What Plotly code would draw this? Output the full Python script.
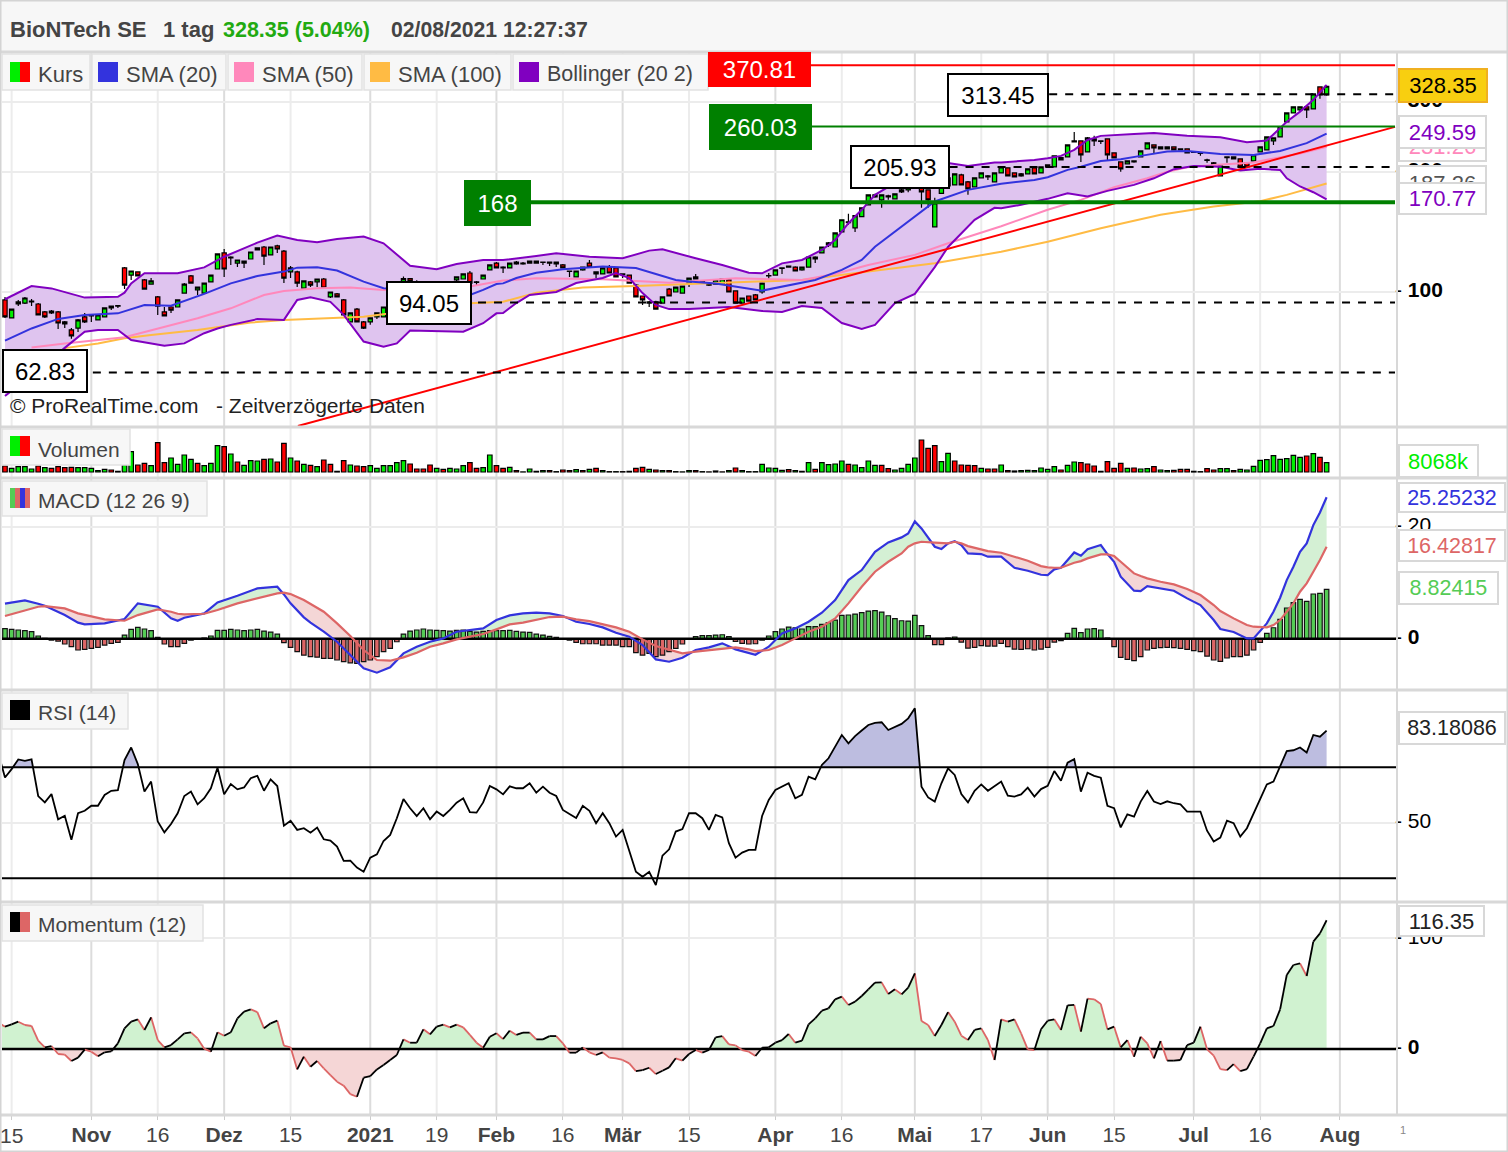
import plotly.graph_objects as go

W, H = 1508, 1152
FONT = "Liberation Sans"

bars = list(range(200))

opens = [95.5,86.1,93.3,93.8,94.4,93.3,89.1,89.6,89.1,84.1,
         80.3,81.2,86.6,87.6,85.1,86.6,91.2,92.2,114.9,110.3,
         112.3,107.2,104.7,97.2,89.1,91.7,91.7,99.4,109.7,101.2,
         99.4,106,114.2,125.3,121.7,118.2,118.2,121,127.5,129.7,
         123.9,130.5,126.7,112.3,112.3,102.3,106,106,107.8,97.2,
         98.9,95.5,84.1,90.6,84.1,84.1,86.6,86.6,91.7,95.5,
         101,108,106,103.5,105,101,103,102,107.2,107.8,
         111.6,106,107.8,113.6,118.2,114.9,114.9,117.6,117.6,118.2,
         119.6,118.9,118.9,118.9,116.9,112.9,109.1,113.6,118.2,111,
         111,115.5,114.9,111,110.3,104.1,97.7,94.4,94.4,93.8,
         101.7,100,99.4,105.3,109.1,106,104.1,104.7,104.7,107.2,
         100.6,93.8,97.7,98.3,100,110,110.3,114.6,115.5,115.5,
         113.6,115.5,121,125.3,131.3,129.7,141.5,149.2,144.9,154.5,
         165.5,173.3,170.3,174.3,171.3,178.4,180.4,187.9,205,180.4,
         145.7,176.8,184.6,185.7,196.7,189,183.6,193.4,195.6,189,
         199,204.9,199,197.9,197.9,204.9,199,206,206,214.5,
         218.3,239.4,239.4,224.7,242.2,239.4,242.2,223.4,212.1,209.7,
         212.1,218.3,228.6,233.9,231.3,228.6,231.3,228.6,228.6,224.7,
         223.4,213.9,210.9,195.6,217.5,218.3,215.8,210.9,213.3,224.7,
         227.3,239.4,245,267.2,281.5,286.4,291.5,288.1,327.1,312.4]
highs = [97.2,90.6,95.5,97.2,96,93.8,89.6,90.1,89.6,84.6,
         81.2,85.6,88.6,88.1,87.6,91.2,92.2,92.8,115.5,112.9,
         112.6,107.8,108.4,97.7,91.7,92.2,95.5,105.3,110.3,102.9,
         105.3,110.3,124.6,128.2,123,120.6,120,126,129.5,130.5,
         129.7,131.3,127.5,116.2,113,106.6,106.6,107.8,108.4,100,
         99.4,96,88.6,91.2,84.6,86.1,88.6,91.7,96,101,
         109.4,108.4,107,105.5,105.5,103.5,104,106,109.4,111.3,
         112.9,106.6,110.3,116.9,118.9,116,118.2,119.6,118.9,119.6,
         120,119.3,119.3,119.3,117.6,113.2,112.9,115.5,120.3,112.3,
         114.9,116.9,115.5,111.3,110.6,104.7,98,94.9,95,97.2,
         102.3,102.9,103.5,108.4,111,106.6,104.7,107.2,107.8,107.8,
         101,96.6,98,98.9,105.3,111.6,113.6,115.2,116.6,116,
         115.5,122.4,123,129.7,133.5,140.7,151.8,157.2,155.4,162.7,
         175.3,176.3,175.3,175.3,176.3,181.5,190,213,207,181,
         172.3,190,194,198,198,190,193.4,199,196.7,199,
         206,205.5,199.6,199,203.7,205.5,206,208.4,219.6,218.3,
         233.9,252.2,240,245,246.5,240,243,224,213,213.3,
         213.8,226,236.7,235,232,231.3,232,229.5,229.5,226,
         224.5,216,212,207.2,219,219,216.5,211.5,220.8,231.3,
         245,244,259.6,281.5,291.5,292,292.5,314.2,328,329.5]
lows = [86,86.1,92.2,93.3,92.2,87.6,86.1,88.1,80.8,81.2,
        76.3,79.4,83.6,84.1,85.1,86.6,90.1,91.2,101.7,107.2,
        109.7,101.7,104.4,87.6,87.1,88.6,91.7,99.4,105.3,98.3,
        99.4,106,114.2,109.1,116.9,115.5,114.9,121,127.5,116.9,
        123.9,125.3,105.3,108.4,102.9,102.3,102.9,102.9,102.3,96.6,
        97.2,87.6,84.1,84.1,80.8,82.7,85.6,86.6,91.2,95,
        100,106,103,102,100,100.5,101,101.5,106,107.8,
        102.3,104.1,107.8,113.6,114.9,111.6,114.9,117,117,118.2,
        118.2,116.9,116.2,115.5,114.9,109.1,109.1,113,115.5,108.4,
        111,111.6,109.1,108.4,105.3,97.2,92.8,91.7,90.6,93.8,
        97.7,100,99.4,102.9,107.8,105,103.5,104.7,104.7,100,
        93.8,93.8,94.9,95.5,99,107.8,110.3,111,115,112.9,
        113,115.5,118.2,125.3,129.7,129.7,141,147.4,141.5,154.5,
        165.5,172.3,162.7,170.3,171.3,177.3,178,186,162.7,162.7,
        145.7,176.3,184,185.7,185.7,175.3,183.6,193.4,191.1,189,
        199,195.6,194.5,194.5,197.9,197.9,199,205,206,214,
        218.3,237.5,212.1,224.7,232.6,235.3,214.5,217,200.2,209.7,
        211,218.3,228.6,223.4,228.6,228,227.3,226.5,223.4,223.5,
        219.6,211,208.4,195.6,210.9,215.8,206,206,213.3,224.7,
        227.3,233.9,245,267.2,281.5,284,273.5,288.1,305.3,311]
closes = [86.6,90.6,94.4,96.6,94.9,87.6,86.6,88.6,83.6,83.2,
          77.6,85.1,84.1,87.1,87.6,91.2,92.2,92.5,104.1,112.9,
          109.7,101.7,106.6,92.2,87.1,90.1,95.5,104.7,105.3,102.9,
          105.3,110.3,124.6,114.2,122.4,120.3,119.6,126,129,123.1,
          129.7,128.2,108.4,114.9,105.3,106.6,104.1,107.8,102.3,100,
          97.2,87.6,88.6,84.1,81.2,86.1,88.6,91.7,95.5,100.6,
          108,106.3,103.5,105,101,103,102,105.5,109.1,111,
          105.3,105.7,110.3,116.9,114.9,115.5,118.2,118.9,118.2,119.6,
          118.2,118.6,118.2,117.6,114.9,112.6,112.9,115.5,115.5,112.3,
          114.9,111.6,109.1,110.6,105.3,97.2,95.5,93.8,90.6,97.2,
          97.7,102.9,103.5,108.4,107.8,106.6,104.7,107.2,107.8,100,
          93.8,96.6,94.9,95.5,105.3,109.7,113.6,114.9,116.2,112.9,
          115.5,122.4,122.4,129.7,132.8,140.7,151.8,150,155.4,162.7,
          175.3,175.3,175.3,173.3,176.3,180.4,187.9,209,178.4,170.3,
          167.4,186,193.4,197.9,185.7,181.5,193.4,199,194.5,199,
          206,195.6,194.5,195.6,203.7,197.9,206,208.4,219.6,217.5,
          233.9,238.1,220.8,243.6,239.4,238.7,220.8,217,203.7,213.3,
          213.3,226,236.7,229.9,228.6,231.3,227.3,227.3,223.4,224.2,
          222.8,214.5,208.4,207.2,218.3,215.8,206,206,220.8,231.3,
          245,243.6,259.6,281.5,291.5,291.5,286.4,314.2,312.4,328.35]

# bollinger and moving averages, read at the bars where the curve bends
upper_x = [0,4,7,12,17,18,19,21,26,30,33,38,41,44,47,50,54,57,61,65,68,72,74,
           75,80,83,88,93,97,99,104,108,112,114,117,120,123,125,127,129,131,134,136,
           142,145,149,150,155,157,159,161,163,165,167,170,173,178,183,187,190,192,193,195,197,199]
upper_y = [95.9,103.5,102.1,96.8,97.3,99.6,105.1,111.4,111.4,115.3,122.6,133,138.5,135.1,133.3,135.9,137.8,132.5,116.4,114,117.6,120.3,120.3,
           120.3,123.1,125.1,122.6,121.5,127,128,121.5,116.9,111.8,111.4,118,120.3,127.5,135.1,148.8,160.8,175.3,187.9,202.5,
           210.7,207.2,211.4,211.4,214.5,216.7,219.6,227.3,240.8,246.5,247.9,249,250.8,246.5,244.4,237.5,239.9,257.9,267.6,283.6,303.5,330.9]
lower_x = [0,5,9,12,14,17,19,24,27,30,32,34,38,42,44,46,49,51,54,57,59,61,69,72,74,
           75,77,79,83,86,90,92,94,96,98,100,103,109,114,117,120,123,126,129,131,134,137,140,142,146,149,
           150,153,157,160,163,166,170,173,176,179,183,186,189,192,193,195,197,199]
lower_y = [54.8,63.7,72.4,79.5,80.3,80.3,75.8,73.3,74.3,78.8,81,82.7,85.5,85.1,95.5,97,94.5,87.6,75.1,72.9,74.3,80,79.5,83.5,88.4,
           88.6,93.8,98.3,100,105.3,108.4,111.6,108.4,99.4,92.8,90.6,90.6,91.7,89.6,89.1,92.2,91.2,83.6,80.8,82.7,93.8,98.9,115.5,129.7,151.8,162.7,
           162.2,165.5,171.3,177,173.6,179.4,185.7,192.9,203.3,207,206.3,201.7,203.7,202.5,192.9,184,178,170.77]
sma20_x = [0,4,8,12,17,21,25,30,34,38,42,44,47,50,54,57,63,70,72,74,75,77,80,84,90,95,98,101,103,107,114,117,122,126,129,131,135,140,145,150,155,157,160,162,165,168,171,175,178,183,188,192,196,199]
sma20_y = [75.5,81,85.6,87.6,88.4,92.8,92.4,98.9,105.1,109.7,112.5,115.1,115.3,113.2,106.2,102.2,101.2,98.3,101.2,104.7,105.1,108.4,111.8,114,115.8,114.8,111,107.2,106.2,105.1,100.8,103.2,107.2,113.6,120.3,129.9,146.2,168.7,180.4,186.8,191.1,194.1,202.5,206.3,213.1,215.4,219.6,225.1,226,222.1,220.8,226,236.3,249.59]
sma50_x = [4,9,18,23,29,34,39,42,47,52,57,70,74,75,80,90,100,110,120,125,130,137,142,150,157,162,167,172,175,178,182,188,195,199]
sma50_y = [72.6,74.3,77,81,85.9,91,98.3,100.6,102.2,102.7,101.2,103.2,106.2,106.8,108.2,107.6,105.5,108.2,107.2,111,116.9,123.9,132.5,146.2,160.8,170.3,183.2,192.9,200.4,205.5,208.4,211.4,222.7,231.3]
sma100_x = [9,14,18,22,29,37,42,50,54,70,74,75,80,87,95,105,115,120,130,140,150,157,165,174,182,189,193,199]
sma100_y = [72.3,74.3,76.5,78,80.3,83.8,85.1,86.3,86.7,93.7,94.5,94.5,99.6,102.7,103.5,105.1,106.8,107.2,112.5,118,126.2,133.7,144.6,156.3,163.8,169,175.3,187.26]

trend_x = [44.1, 209.3]
trend_y = [46.1, 259.6]

level_values = [370.81, 313.45, 260.03, 205.93, 168, 94.05, 62.83]
level_starts = [114, 150, 114, 135, 74, 64, 6]
level_end = 209.3

volume = [5180,3170,4610,4610,2590,5180,3740,3170,4610,3740,
          4030,3740,3740,3170,1150,2300,1730,580,6050,17570,
          6050,7490,5470,25340,8060,12100,6620,14690,10940,7490,
          5470,7490,22750,21890,15550,8640,5760,9790,9500,10940,
          11230,8640,24770,12100,9500,6620,5760,4610,10370,6620,
          580,9790,6050,5180,4610,5470,3170,5470,5470,8060,
          9790,6910,2590,2590,6050,3170,2300,3170,2590,5470,
          8060,3170,3740,14690,5470,3170,4030,1150,100,2590,
          580,1150,1150,290,1730,1150,2020,1150,2300,3170,
          1150,290,290,290,580,3170,4030,2300,1730,1150,
          1150,290,100,1150,1150,290,100,860,100,1150,
          3460,1150,290,290,6620,3460,3170,1440,2020,1150,
          580,8060,2300,8060,6340,6910,9500,6620,6050,3740,
          9500,5760,5760,2880,1730,3170,6620,12100,27650,20450,
          22750,8930,16130,9500,6050,5760,5470,3170,2590,2590,
          6050,1150,860,1150,1440,1150,3460,2300,4610,1730,
          5760,8640,8060,6910,5180,580,8930,3170,7490,3170,
          3460,2590,2880,4610,1730,1150,1440,2300,2300,580,
          290,2880,1730,2880,2880,1150,2300,1730,4900,10080,
          10660,14110,10940,11520,14400,12670,13820,15840,12670,8068]
volume_side = list("rggggrgrrr" "rgggggrggg" "rrgrrggggr" "gggrgrgggr" "grrgrgrgrr"
                   "rrgrrggggg" "grrrrgrggg" "rrggrrgrgg" "rgrgrrgrgr" "grgrgrrgrg"
                   "rgggrgrgrg" "rgggggggrg" "rgrggggrgg" "ggrrggggrr"
                   "rggrrrrgrr" "grrggggggr" "ggrrrrrrrg" "rggrggrrrg" "grrggrgggg" "ggggggrgrg")

macd_x = [0,3,5,6,9,11,12,15,18,20,23,25,26,27,30,32,35,38,41,42,43,45,46,48,50,52,54,56,58,60,62,64,66,68,70,72,74,
          76,78,80,82,84,86,88,90,92,94,96,98,100,102,104,106,108,110,112,113,115,117,119,121,123,125,127,129,131,133,135,136,137,138,140,141,142,143,144,145,147,148,150,
          152,154,156,157,158,159,161,162,163,165,166,167,168,170,171,172,174,176,178,180,182,183,185,187,188,190,191,192,193,194,195,196,197,198,199]
macd_line = [6.25,6.85,6.25,5.89,4.23,2.86,2.56,2.74,3.51,6.31,5.71,3.63,3.21,3.75,4.52,6.49,7.68,8.99,9.28,7.91,6.31,3.81,2.86,1.25,-.54,-2.92,-5.3,-6.07,-5.12,-2.62,-1.43,-.54,.06,1.25,1.55,1.84,3.33,
             4.17,4.52,4.64,4.52,4.05,3.03,2.62,2.02,1.07,.36,-1.13,-3.69,-4.11,-3.39,-2.02,-1.55,-.83,-1.9,-2.62,-2.86,-1.43,.95,1.84,3.03,4.64,6.9,10.47,12.26,15.53,17.2,18.09,18.8,20.94,19.69,16.42,16,17.02,17.43,16.72,15.23,15.11,14.64,14.64,
             12.67,12.14,11.42,11.36,12.38,12.67,15.41,14.82,16,16.72,15.11,13.74,11.07,8.57,8.51,9.4,8.98,8.57,7.2,6.01,3.33,1.73,1.19,.06,.06,2.74,4.82,7.32,10.47,12.85,15.53,17.02,20.29,22.55,25.25]
macd_signal = [4.05,5.12,5.71,5.83,5.41,4.52,4.22,3.45,3.21,4.22,5.24,4.82,4.46,4.34,4.46,5.12,6.31,7.2,8.09,8.21,7.97,6.9,6.19,4.82,2.74,.48,-2.02,-3.81,-3.93,-3.33,-2.5,-1.43,-.83,-.12,.36,.83,1.67,
               2.56,2.86,3.33,3.87,3.93,3.45,3.15,2.62,2.02,1.25,-.12,-1.31,-2.02,-2.62,-2.32,-2.02,-1.73,-1.55,-1.9,-2.2,-2.02,-1.13,.06,1.25,2.14,3.63,6.31,9.28,11.96,13.74,15.23,16.42,17.02,17.31,17.14,17.02,17.02,17.31,17.02,16.54,15.95,15.65,15.35,
               14.64,13.92,12.97,12.73,12.67,12.67,13.57,13.86,14.34,15.05,15.05,14.76,13.74,11.66,11.19,10.77,10.17,9.7,8.87,7.8,6.01,4.94,3.63,2.44,2.14,2.02,2.44,3.33,4.82,6.31,8.39,9.88,11.96,14.04,16.43]
macd_hist = [1.8,1.67,1.55,1.43,1.25,.48,.06,-.24,-.42,-.95,
             -1.43,-2.02,-1.9,-1.73,-1.55,-1.13,-.83,-.65,.65,1.67,
             2.02,1.73,1.43,.24,-.95,-1.43,-1.43,-.83,-.24,-.12,
             .12,.48,1.49,1.49,1.67,1.55,1.43,1.55,1.67,1.37,
             1.19,.83,-.71,-1.55,-2.32,-2.92,-3.2,-3.3,-3.5,-3.5,
             -3.8,-4.1,-4.3,-4.4,-4.1,-3.8,-3.2,-2.3,-1.73,-.54,
             .83,1.37,1.55,1.73,1.55,1.49,1.43,1.37,1.49,1.55,
             1.31,1.19,1.31,1.43,1.43,1.43,1.49,1.31,1.19,1.13,
             .83,.65,.42,.24,0,-.24,-.65,-.9,-.9,-.9,
             -1.13,-1.13,-1.13,-1.43,-1.43,-2.5,-2.92,-2.62,-3.2,-2.92,
             -2.3,-1.73,-.95,-.12,.36,.54,.54,.65,.71,.36,
             -.48,-.83,-.95,-.9,-.24,.48,1.25,1.73,2.08,1.96,
             1.73,2.14,2.14,2.56,2.86,3.33,4.17,4.23,4.4,4.64,
             4.94,5,4.76,4.1,3.57,3.21,3.15,4.17,2.32,.54,
             -1.07,-1.07,.12,.3,-.6,-1.67,-1.55,-1.25,-1.31,-1.31,
             -.83,-1.43,-1.85,-1.9,-1.79,-2.02,-1.85,-1.55,-.6,-.36,
             .95,1.85,1.07,1.73,1.79,1.55,.12,-1.43,-3.33,-3.7,
             -3.93,-3.2,-2.02,-1.73,-1.6,-1.55,-1.6,-1.73,-1.9,-2.14,
             -2.32,-3.1,-3.8,-4.05,-3.45,-3.2,-3.2,-2.92,-2.02,-.65,
             .95,1.96,3.45,5.48,6.43,7.02,6.67,7.98,8.1,8.82]

# rsi and momentum start one bar left of the axis, they come in from off chart
osc_bars = list(range(-1, 200))
rsi = [75,66.3,69.3,72.8,72.3,72.8,59.6,57.3,60.3,51.2,52.5,
       43.8,53.4,54.3,56.1,56.1,60,61.5,61.7,72.6,77.1,
       71.1,61.2,64.8,50.4,46.5,49.5,53.4,59.6,61.2,56.6,
       58.8,62.4,69.8,60.2,63.9,62,62.7,66,66.9,61.5,
       65.6,63.2,48.9,50.7,47.4,48,46.4,48.2,44,43.5,
       41.4,36.2,36.3,33.8,32.3,37.4,38.6,43.4,45.6,51.6,
       58.5,55.2,52.4,55.2,51.2,54,52.4,54.6,57.2,58.8,
       53.8,53.6,57.3,63.2,62,60.2,63.1,62.4,62.4,64.2,
       60.8,63,60.8,59.6,54.6,53.1,51.7,56.1,54.3,49.8,
       53.4,49.8,45,47.4,40.2,32.3,30.5,32.3,27.5,38.1,
       40.4,46.8,47.7,53.4,53.4,51.6,47.4,52.8,51.9,42.6,
       37.4,39.2,40.2,40.2,52.4,58.2,61.8,63,64.2,58.8,
       60,66.6,65.6,70.8,73.2,77.4,81.6,78.6,81.2,83.2,
       85.2,86,86.2,83.4,84.4,85.6,87.6,91.2,63,59.1,
       57.6,64.2,69.6,67.2,60.3,57.3,61.5,63.8,61.5,63,
       64.8,59.7,59.4,60.2,62.6,59.4,62.1,63.3,68.6,65.1,
       71.6,72.9,61.2,68,66.9,66.2,56.1,55.2,48.3,53,
       52.2,57.6,61.4,57.6,56.7,57.7,57,56.6,54,54,
       54,47.1,43.2,44.6,50.7,49.8,45,48,53.4,58.8,
       63.8,64.8,70.2,75.8,76.1,77.1,75.3,81.6,81,83.18]
rsi_levels = [70, 30]

momentum = [23.8,20.2,22.3,24.7,21.7,20.8,7.5,1.5,2.7,-4.5,-5.1,
            -10.8,-7.8,-.6,-2.4,-6.6,-3,-2.1,5.1,18.7,24.7,
            26.8,17.2,28.6,8.1,1.5,3.6,8.7,14.2,15.1,9.6,
            .3,-2.4,15.1,12,15.1,27.7,33.7,35.8,33.4,18.7,
            23.2,25.6,3,1.5,-18.4,-6.9,-16,-10.8,-17.5,-23.5,
            -29.5,-33.1,-40.7,-43.1,-25.9,-24.4,-18.4,-14.5,-9.9,-5.4,
            8.7,5.7,5.7,17.8,13.3,20.2,22,19.6,22,19.6,
            12.7,5.7,1.2,11.1,14.2,9,16.6,12.7,14.8,14.8,
            8.7,8.7,11.7,11.7,5.1,-3.3,-3.3,1.5,-3,-5.4,
            -3,-7.8,-8.4,-9.9,-13,-19.9,-19,-16.9,-22.6,-19.6,
            -16.6,-8.4,-10.5,-4.5,-.9,-3.3,-.9,10.5,11.7,4.2,
            3.3,-.9,-2.4,-6.3,1.2,1.5,5.7,8.1,13.6,5.7,
            7.5,22.3,27.7,34.6,36.7,44.9,47.3,39.8,42.8,47.9,
            53.9,59.9,60.2,49.7,53.9,49.4,55.4,68.4,25.3,21.7,
            11.7,21.7,33.4,24.7,12,8.1,17.2,18.7,8.1,-9.9,
            26.8,24.7,26.8,14.2,-.3,-.9,17.8,25.6,26.8,17.2,
            39.5,39.8,15.7,45.5,44.9,40.7,17.8,20.2,1.5,8.1,
            -6.9,11.1,5.1,-8.4,7.2,-10.5,-10.5,-9.9,3.6,5.7,
            20.2,-.3,-6,-18.1,-19,-13.6,-19.9,-18.1,-6.9,5.1,
            18.7,20.8,35.8,66.9,75.9,77.4,66,97,104.5,116.35]

month_ticks = [13, 33, 55, 74, 93, 116, 137, 157, 179, 201]
month_labels = ["Nov", "Dez", "2021", "Feb", "Mär", "Apr", "Mai", "Jun", "Jul", "Aug"]
mid_ticks = [1, 23, 43, 65, 84, 103, 126, 147, 167, 189]
mid_labels = ["15", "16", "15", "19", "16", "15", "16", "17", "15", "16"]

assert len(opens) == len(highs) == len(lows) == len(closes) == len(volume) == len(macd_hist) == 200
assert len(volume_side) == 200 and len(rsi) == len(momentum) == 201
assert len(macd_x) == len(macd_line) == len(macd_signal)
assert len(upper_x) == len(upper_y) and len(lower_x) == len(lower_y)
assert len(sma20_x) == len(sma20_y) and len(sma50_x) == len(sma50_y) and len(sma100_x) == len(sma100_y)

GREEN = "#00ee00"
RED = "#ff0000"
PURPLE = "#8000c0"
BLUE = "#3333dd"
PINK = "#ff88bb"
ORANGE = "#ffbb44"
MGREEN = "#55cc55"
MRED = "#dd6666"
GRID = "#ececec"
GRID2 = "#dcdcdc"
TEXT = "#444444"


def px(x):
    return x / W


def py(y):
    return 1 - y / H


def dom(y0, y1):
    return [py(y1), py(y0)]


def split_fill(x, a, b):
    # polygons between a and b, one list for a>=b and one for a<b
    out = {True: ([], []), False: ([], [])}
    run, sign = [], None
    for k in range(len(x)):
        s = a[k] >= b[k]
        if sign is not None and s != sign:
            d0, d1 = a[k - 1] - b[k - 1], a[k] - b[k]
            t = d0 / (d0 - d1)
            xc = x[k - 1] + t * (x[k] - x[k - 1])
            yc = a[k - 1] + t * (a[k] - a[k - 1])
            run.append((xc, yc, yc))
            poly_x, poly_y = out[sign]
            poly_x += [r[0] for r in run] + [r[0] for r in run[::-1]] + [None]
            poly_y += [r[1] for r in run] + [r[2] for r in run[::-1]] + [None]
            run = [(xc, yc, yc)]
        run.append((x[k], a[k], b[k]))
        sign = s
    poly_x, poly_y = out[sign]
    poly_x += [r[0] for r in run] + [r[0] for r in run[::-1]] + [None]
    poly_y += [r[1] for r in run] + [r[2] for r in run[::-1]] + [None]
    return out


def area(x, y, color, yaxis):
    return go.Scatter(x=x, y=y, mode="lines", line=dict(width=0), fill="toself", fillcolor=color,
                      yaxis=yaxis, zorder=0, hoverinfo="skip")


def line(x, y, color, width, yaxis="y", dash=None):
    return go.Scatter(x=x, y=y, mode="lines", line=dict(color=color, width=width, dash=dash),
                      yaxis=yaxis, zorder=2, hoverinfo="skip")


fig = go.Figure()

# price panel
fig.add_trace(area(upper_x + lower_x[::-1], upper_y + lower_y[::-1], "#dfc4ef", "y"))
fig.add_trace(go.Candlestick(
    x=bars, open=opens, high=highs, low=lows, close=closes, zorder=1,
    increasing=dict(fillcolor=GREEN, line=dict(color="black", width=1.2)),
    decreasing=dict(fillcolor=RED, line=dict(color="black", width=1.2)),
    whiskerwidth=0, yaxis="y",
))
fig.add_trace(line(sma100_x, sma100_y, ORANGE, 2))
fig.add_trace(line(sma50_x, sma50_y, PINK, 2))
fig.add_trace(line(sma20_x, sma20_y, BLUE, 2))
fig.add_trace(line(upper_x, upper_y, PURPLE, 2))
fig.add_trace(line(lower_x, lower_y, PURPLE, 2))
fig.add_trace(line(trend_x, trend_y, RED, 2))
level_styles = [("#ff0000", 2, None), ("black", 2, "8px,8px"), ("#008000", 2, None),
                ("black", 2, "8px,8px"), ("#008000", 4, None), ("black", 2, "8px,8px"),
                ("black", 2, "8px,8px")]
for val, start, st in zip(level_values, level_starts, level_styles):
    fig.add_trace(line([start, level_end], [val, val], st[0], st[1], dash=st[2]))

# volume
fig.add_trace(go.Bar(x=bars, y=volume, width=0.68, yaxis="y2", zorder=1,
                     marker=dict(color=[GREEN if s == "g" else RED for s in volume_side],
                                 line=dict(color="black", width=1.2))))

# macd
macd_fill = split_fill(macd_x, macd_line, macd_signal)
fig.add_trace(area(macd_fill[True][0], macd_fill[True][1], "#d4f0d4", "y3"))
fig.add_trace(area(macd_fill[False][0], macd_fill[False][1], "#f4d6d6", "y3"))
fig.add_trace(go.Bar(x=bars, y=macd_hist, width=0.68, yaxis="y3", zorder=1,
                     marker=dict(color=[MGREEN if v >= 0 else MRED for v in macd_hist],
                                 line=dict(color="#111111", width=1.2))))
fig.add_trace(line([-1, level_end + 0.3], [0, 0], "black", 2.5, "y3"))
fig.add_trace(line(macd_x, macd_line, BLUE, 2.2, "y3"))
fig.add_trace(line(macd_x, macd_signal, MRED, 2.2, "y3"))

# rsi
rsi_fill = split_fill(osc_bars, rsi, [rsi_levels[0]] * len(rsi))
fig.add_trace(area(rsi_fill[True][0], rsi_fill[True][1], "#bdbde0", "y4"))
for lev in rsi_levels:
    fig.add_trace(line([-1, level_end + 0.3], [lev, lev], "black", 2, "y4"))
fig.add_trace(line(osc_bars, rsi, "black", 1.8, "y4"))

# momentum, black going up and red going down
mom_fill = split_fill(osc_bars, momentum, [0] * len(momentum))
fig.add_trace(area(mom_fill[True][0], mom_fill[True][1], "#d0f2d0", "y5"))
fig.add_trace(area(mom_fill[False][0], mom_fill[False][1], "#f5d6d6", "y5"))
up_x, up_y, down_x, down_y = [], [], [], []
for k in range(1, len(momentum)):
    if momentum[k] >= momentum[k - 1]:
        up_x += [osc_bars[k - 1], osc_bars[k], None]
        up_y += [momentum[k - 1], momentum[k], None]
    else:
        down_x += [osc_bars[k - 1], osc_bars[k], None]
        down_y += [momentum[k - 1], momentum[k], None]
fig.add_trace(line([-1, level_end + 0.3], [0, 0], "black", 2.5, "y5"))
fig.add_trace(line(down_x, down_y, MRED, 1.8, "y5"))
fig.add_trace(line(up_x, up_y, "black", 1.8, "y5"))

shapes = []


def rect(x0, y0, x1, y1, fill, border=None, bw=0):
    shapes.append(dict(type="rect", xref="paper", yref="paper", layer="above",
                       x0=px(x0), x1=px(x1), y0=py(y0), y1=py(y1), fillcolor=fill,
                       line=dict(color=border or fill, width=bw)))


def hline(y, x0=0, x1=W, color="#d8d8d8", width=3):
    shapes.append(dict(type="line", xref="paper", yref="paper", layer="above",
                       x0=px(x0), x1=px(x1), y0=py(y), y1=py(y), line=dict(color=color, width=width)))


# vertical grid, drawn under everything across all panels
for t in mid_ticks:
    shapes.append(dict(type="line", xref="x", yref="paper", layer="below", x0=t, x1=t,
                       y0=py(1115), y1=py(52), line=dict(color=GRID, width=2)))
for t in month_ticks:
    shapes.append(dict(type="line", xref="x", yref="paper", layer="below", x0=t, x1=t,
                       y0=py(1115), y1=py(52), line=dict(color=GRID2, width=2)))

rect(0, 0, W, 52, "#f7f7f7")
for y in [52, 427, 478, 690, 902, 1115]:
    hline(y)
shapes.append(dict(type="line", xref="paper", yref="paper", layer="above", x0=px(1397), x1=px(1397),
                   y0=py(1115), y1=py(52), line=dict(color="#d8d8d8", width=2)))
rect(0, 0, W, H, "rgba(0,0,0,0)", "#d4d4d4", 3)

# legend tabs
tab_edges = [(2, 90), (92, 226), (228, 362), (364, 511), (513, 708)]
for x0, x1 in tab_edges:
    rect(x0, 54, x1, 90, "#f7f7f7", "#e2e2e2", 1.5)
rect(2, 429, 130, 465, "#f7f7f7", "#e2e2e2", 1.5)
rect(2, 481, 207, 516, "#f7f7f7", "#e2e2e2", 1.5)
rect(2, 693, 128, 729, "#f7f7f7", "#e2e2e2", 1.5)
rect(2, 905, 203, 941, "#f7f7f7", "#e2e2e2", 1.5)

rect(10, 62, 20, 82, GREEN)
rect(20, 62, 30, 82, RED)
rect(98, 62, 118, 82, BLUE)
rect(234, 62, 254, 82, PINK)
rect(370, 62, 390, 82, ORANGE)
rect(519, 62, 539, 82, PURPLE)
rect(10, 436, 20, 456, GREEN)
rect(20, 436, 30, 456, RED)
rect(10, 488, 15, 508, MGREEN)
rect(15, 488, 20, 508, MRED)
rect(20, 488, 25, 508, BLUE)
rect(25, 488, 30, 508, MRED)
rect(10, 700, 30, 720, "black")
rect(10, 912, 20, 932, "black")
rect(20, 912, 30, 932, MRED)

annots = []


def text(x, y, s, size=22, color=TEXT, anchor="left"):
    # annotations carry about 2px of inner padding, take it back
    xpos = x - 2 if anchor == "left" else x
    annots.append(dict(xref="paper", yref="paper", x=px(xpos), y=py(y), text=s, showarrow=False,
                       xanchor=anchor, yanchor="middle", font=dict(family=FONT, size=size, color=color)))


def box(x0, y0, x1, y1, s, size=24, color="black", fill="white", border="black", bw=2):
    annots.append(dict(xref="paper", yref="paper", x=px(x0), y=py(y0), text=s, showarrow=False,
                       xanchor="left", yanchor="top", width=x1 - x0 - 2 * bw, height=y1 - y0 - 2 * bw,
                       align="center", valign="middle", bgcolor=fill, bordercolor=border, borderwidth=bw,
                       borderpad=0, font=dict(family=FONT, size=size, color=color)))


text(10, 30, "<b>BioNTech SE</b>")
text(163, 30, "<b>1 tag</b>")
text(223, 30, "<b>328.35 (5.04%)</b>", 21.5, "#22aa11")
text(391, 30, "<b>02/08/2021 12:27:37</b>", 21.2)

text(38, 74, "Kurs")
text(126, 74, "SMA (20)")
text(262, 74, "SMA (50)")
text(398, 74, "SMA (100)")
text(547, 74, "Bollinger (20 2)", 21.5)
text(38, 449, "Volumen", 21)
text(38, 500, "MACD (12 26 9)", 21)
text(38, 712, "RSI (14)", 21)
text(38, 924, "Momentum (12)", 21)
text(10, 405, "© ProRealTime.com", 21, "#222222")
text(216, 405, "- Zeitverzögerte Daten", 21, "#222222")
text(11, 1135, "15", 21, TEXT, "center")

box(708, 52, 811, 87, "370.81", color="white", fill="#ff0000", border="#ff0000", bw=0)
box(709, 104, 812, 150, "260.03", color="white", fill="#008000", border="#008000", bw=0)
box(464, 180, 531, 226, "168", color="white", fill="#008000", border="#008000", bw=0)
box(947, 73, 1049, 117, "313.45")
box(850, 145, 950, 189, "205.93")
box(386, 281, 472, 325, "94.05")
box(2, 349, 88, 393, "62.83")

LB = "#d8d8d8"
box(1398, 131, 1487, 162, "231.26", 22, PINK, border=LB)
box(1398, 165, 1487, 202, "187.26", 22, "#555555", border=LB)
box(1398, 68, 1488, 103, "328.35", 22, "black", "#f8cf10", "#f0b020")
box(1398, 115, 1487, 149, "249.59", 22, PURPLE, border=LB)
box(1398, 182, 1487, 215, "170.77", 22, PURPLE, border=LB)
box(1398, 444, 1479, 478, "8068k", 22, GREEN, border=LB)
box(1398, 482, 1506, 513, "25.25232", 21.5, BLUE, border=LB)
box(1398, 529, 1506, 562, "16.42817", 21.5, MRED, border=LB)
box(1398, 571, 1499, 605, "8.82415", 21.5, MGREEN, border=LB)
box(1398, 711, 1506, 745, "83.18086", 21.5, "#222222", border=LB)
box(1398, 905, 1485, 937, "116.35", 22, "#222222", border=LB)
text(1400, 1130, "1", 11, "#888888")

tick_pos = sorted(month_ticks + mid_ticks)
tick_map = dict(zip(month_ticks, ["<b>%s</b>" % m for m in month_labels]))
tick_map.update(zip(mid_ticks, mid_labels))
tickfont = dict(family=FONT, size=21, color="black")


def yaxis(domain, rng, vals=None, labels=None, kind="linear"):
    return dict(domain=domain, range=rng, type=kind, anchor="x", side="right", showline=False,
                tickmode="array", tickvals=vals or [], ticktext=labels or [], ticks="",
                ticklabelstandoff=-3, ticklabelshift=-2,
                showgrid=True, gridcolor=GRID, gridwidth=2, tickfont=tickfont, fixedrange=True,
                zeroline=False)


fig.update_layout(
    width=W, height=H, margin=dict(l=0, r=0, t=0, b=0), autosize=False,
    paper_bgcolor="white", plot_bgcolor="rgba(0,0,0,0)", showlegend=False, barmode="overlay",
    boxgap=0.2, boxgroupgap=0.2,
    xaxis=dict(domain=[px(2), px(1397)], range=[-0.45, 209.6], anchor="y5", rangeslider=dict(visible=False),
               showgrid=False, zeroline=False, showline=False, tickmode="array", tickvals=tick_pos,
               ticktext=[tick_map[t] for t in tick_pos], ticks="outside", ticklen=4, tickcolor="#cccccc",
               ticklabelstandoff=-3, tickangle=0, tickfont=dict(family=FONT, size=21, color=TEXT)),
    yaxis=yaxis(dom(52, 426), [1.6637, 2.6023], [100, 200, 300],
                ["- <b>100</b>", "- <b>200</b>", "- <b>300</b>"], "log"),
    yaxis2=yaxis(dom(428, 478), [-5184, 38016]),
    yaxis3=yaxis(dom(480, 690), [-9.16, 28.34], [0, 20], ["- <b>0</b>", "- 20"]),
    yaxis4=yaxis(dom(692, 902), [21.4, 97.1], [50], ["- 50"]),
    yaxis5=yaxis(dom(904, 1115), [-59.6, 131], [0, 100], ["- <b>0</b>", "- 100"]),
    shapes=shapes, annotations=annots,
)
fig.write_html("out.html", config={"displayModeBar": False},
               post_script="document.body.style.margin='0';")
